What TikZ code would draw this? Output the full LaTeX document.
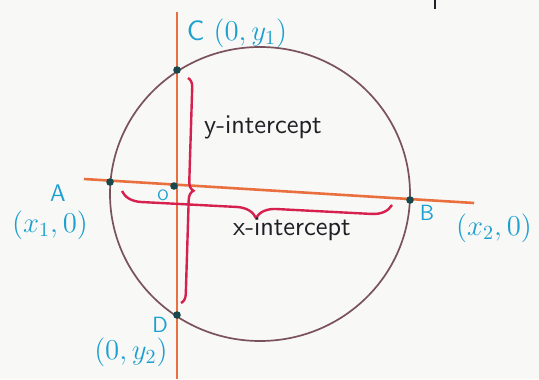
\documentclass[tikz,border=0pt]{standalone}
\usetikzlibrary{decorations.pathreplacing}
\definecolor{axisorange}{RGB}{233,112,62}
\definecolor{circlebrown}{RGB}{122,82,92}
\definecolor{bracered}{RGB}{214,32,78}
\definecolor{labelcyan}{RGB}{28,160,208}
\definecolor{pointteal}{RGB}{24,72,76}
\definecolor{inkblack}{RGB}{32,32,38}
\definecolor{paper}{RGB}{248,248,246}
\tikzset{
  lbl/.style={labelcyan, font=\sffamily\fontsize{14}{16}\selectfont},
  ink/.style={inkblack, font=\sffamily\fontsize{13.5}{16}\selectfont},
  ibrace/.style={bracered, line width=1.2pt, decorate, decoration={brace, #1}},
}

\begin{document}
\begin{tikzpicture}[x=0.5pt, y=-0.5pt]
  % Paper and frame
  \fill[paper] (0,0) rectangle (539,379);
  \useasboundingbox (0,0) rectangle (539,379);
  \draw[inkblack, line width=1pt] (435,0) -- (435,9);

  % Axes
  \coordinate (xl) at (84,179);
  \coordinate (xr) at (474,203);
  \coordinate (yt) at (177,12);
  \coordinate (yb) at (177,379);
  \draw[axisorange, line width=1.3pt] (xl) -- (xr);
  \draw[axisorange, line width=1.3pt] (yt) -- (yb);

  % Circle
  \draw[circlebrown, line width=0.85pt] (260,194) ellipse (150 and 147);

  % Intercept points on the circle
  \coordinate (A) at (110,182);
  \coordinate (B) at (410,200);
  \coordinate (C) at (177,70);
  \coordinate (D) at (177,315);
  \coordinate (O) at (174,186);
  \foreach \p in {A,B,C,D,O}
    \fill[pointteal] (\p) circle (3.8);

  % Braces for the two intercepts
  \coordinate (ybtop) at (188,78);
  \coordinate (ybbot) at (181,303);
  \draw[ibrace={amplitude=4.5pt}] (ybtop) -- (ybbot);
  \coordinate (xbleft) at (122,191);
  \coordinate (xbright) at (392,205);
  \draw[ibrace={mirror, amplitude=10pt}] (xbleft) -- (xbright);

  % Labels
  \node[lbl] (Clbl) at (237,33) {C $(0,y_1)$};
  \node[lbl, font=\sffamily\fontsize{12}{14}\selectfont] (Albl) at (58,193) {A};
  \node[lbl] (x1lbl) at (50,225) {$(x_1,0)$};
  \node[lbl, font=\sffamily\fontsize{7.5}{9}\selectfont] (Olbl) at (163,195) {O};
  \node[lbl, font=\sffamily\fontsize{11}{13}\selectfont] (Blbl) at (427,213) {B};
  \node[lbl] (x2lbl) at (494,228) {$(x_2,0)$};
  \node[lbl, font=\sffamily\fontsize{11}{13}\selectfont] (Dlbl) at (160,325) {D};
  \node[lbl] (y2lbl) at (131,352) {$(0,y_2)$};
  \node[ink] (ytext) at (263,127) {y-intercept};
  \node[ink] (xtext) at (292,229) {x-intercept};
\end{tikzpicture}
\end{document}
